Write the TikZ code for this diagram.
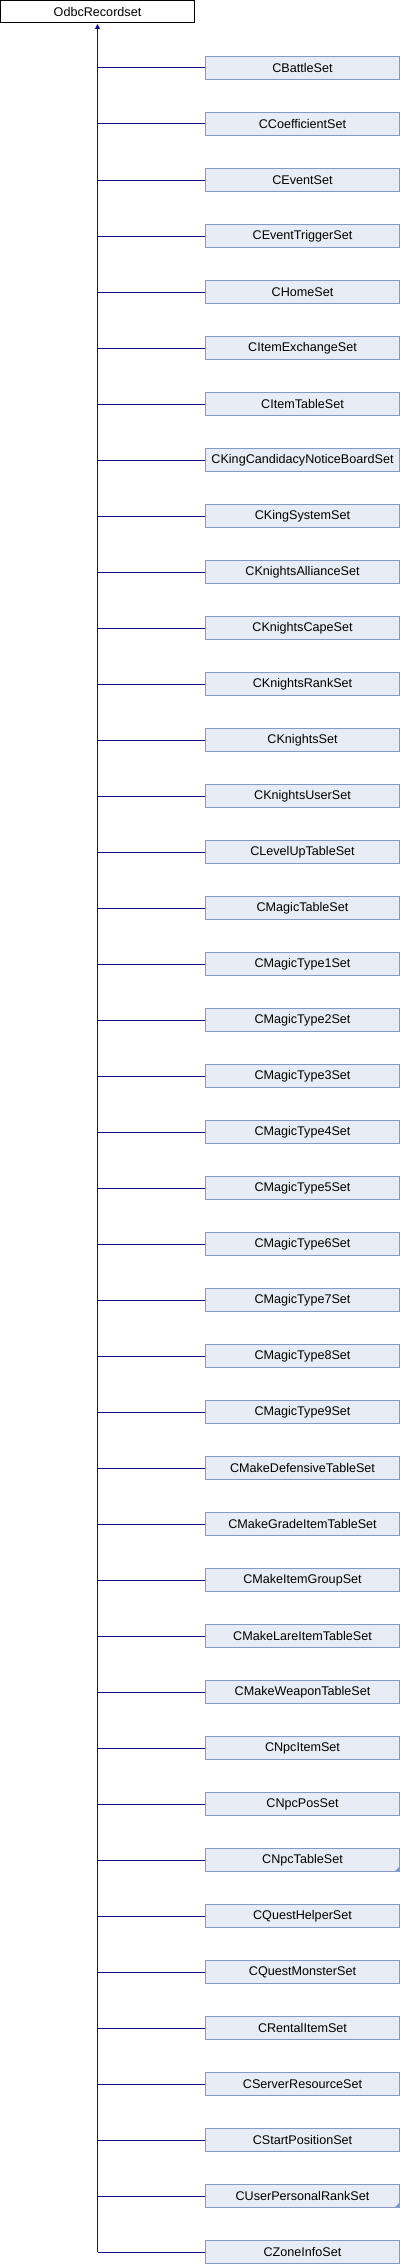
\documentclass[tikz,border=0pt]{standalone}
\usepackage{fontspec}
\setmainfont{Liberation Sans}
\usetikzlibrary{arrows.meta}
\definecolor{edgeblue}{RGB}{16,16,150}
\definecolor{boxfill}{RGB}{232,236,244}
\definecolor{boxline}{RGB}{132,152,204}
\tikzset{
  basebox/.style={draw=black, fill=white, line width=1pt, minimum width=194pt, minimum height=22.5pt, inner sep=0pt, font=\fontsize{12.6}{14}\selectfont},
  childbox/.style={draw=boxline, fill=boxfill, line width=1pt, minimum width=194pt, minimum height=23pt, inner sep=0pt, font=\fontsize{12.6}{14}\selectfont},
  edge/.style={draw=edgeblue, line width=1pt},
  corner/.style={fill=boxline, draw=none}
}
\begin{document}
\begin{tikzpicture}[x=1pt,y=-1pt]
\useasboundingbox (0,0) rectangle (400,2264);
\node[basebox] (base) at (97.5,11.75) {OdbcRecordset};
\foreach [count=\i from 0] \name in {CBattleSet,CCoefficientSet,CEventSet,CEventTriggerSet,CHomeSet,CItemExchangeSet,CItemTableSet,CKingCandidacyNoticeBoardSet,CKingSystemSet,CKnightsAllianceSet,CKnightsCapeSet,CKnightsRankSet,CKnightsSet,CKnightsUserSet,CLevelUpTableSet,CMagicTableSet,CMagicType1Set,CMagicType2Set,CMagicType3Set,CMagicType4Set,CMagicType5Set,CMagicType6Set,CMagicType7Set,CMagicType8Set,CMagicType9Set,CMakeDefensiveTableSet,CMakeGradeItemTableSet,CMakeItemGroupSet,CMakeLareItemTableSet,CMakeWeaponTableSet,CNpcItemSet,CNpcPosSet,CNpcTableSet,CQuestHelperSet,CQuestMonsterSet,CRentalItemSet,CServerResourceSet,CStartPositionSet,CUserPersonalRankSet,CZoneInfoSet}{
  \node[childbox] (c\i) at (302.5,68+56*\i) {\name};
  \draw[edge] (c\i.west) -- (c\i.west -| base.south);
}
\coordinate (trunkend) at (c39.west -| base.south);
\draw[edge, -{Triangle[length=5pt,width=5pt]}] (trunkend) -- ([yshift=-0.5pt]base.south);
\foreach \k in {32,38}{
  \fill[corner] ([xshift=-0.5pt,yshift=0.5pt]c\k.south east) -- ++(-5,0) -- ++(5,-5) -- cycle;
}
\end{tikzpicture}
\end{document}
